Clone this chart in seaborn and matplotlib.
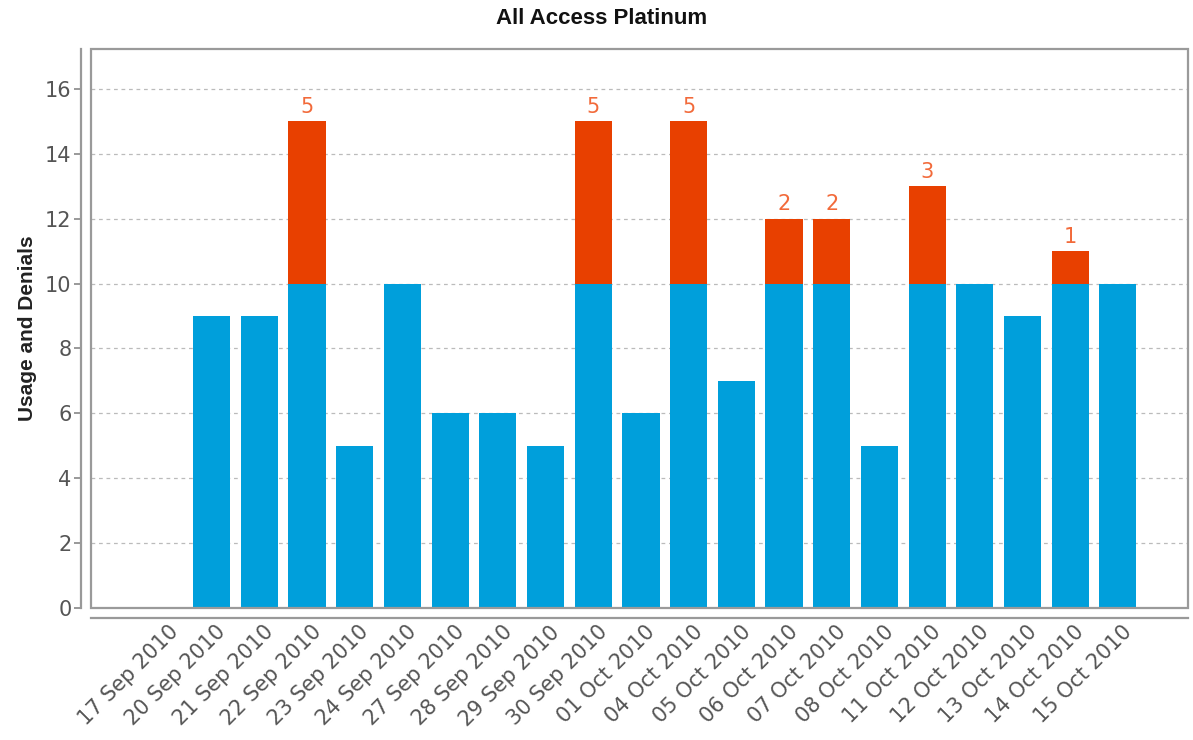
import matplotlib
matplotlib.use("Agg")
import matplotlib.pyplot as plt
from matplotlib.patches import Rectangle
from matplotlib.transforms import ScaledTranslation
import seaborn as sns
import pandas as pd

dates = ["17 Sep 2010", "20 Sep 2010", "21 Sep 2010", "22 Sep 2010", "23 Sep 2010",
         "24 Sep 2010", "27 Sep 2010", "28 Sep 2010", "29 Sep 2010", "30 Sep 2010",
         "01 Oct 2010", "04 Oct 2010", "05 Oct 2010", "06 Oct 2010", "07 Oct 2010",
         "08 Oct 2010", "11 Oct 2010", "12 Oct 2010", "13 Oct 2010", "14 Oct 2010",
         "15 Oct 2010"]
usage = [0, 9, 9, 10, 5, 10, 6, 6, 5, 10, 6, 10, 7, 10, 10, 5, 10, 10, 9, 10, 10]
denials = [0, 0, 0, 5, 0, 0, 0, 0, 0, 5, 0, 5, 0, 2, 2, 0, 3, 0, 0, 1, 0]
yticks = [0, 2, 4, 6, 8, 10, 12, 14, 16]

df = pd.DataFrame({"date": dates, "usage": usage, "denials": denials})
df["total"] = df["usage"] + df["denials"]

sns.set_theme(style="white")
plt.rcParams["font.family"] = ["DejaVu Sans"]

fig = plt.figure(figsize=(11.93, 7.40), dpi=100)
ax = fig.add_axes([0.0763, 0.1784, 0.9195, 0.7554])

BLUE = "#009FDB"
ORANGE = "#E84000"

# stacked bars: full total in orange, usage drawn over it in blue
sns.barplot(data=df, x="date", y="total", order=dates, color=ORANGE, width=0.78,
            saturation=1, errorbar=None, ax=ax, zorder=2, linewidth=0)
sns.barplot(data=df, x="date", y="usage", order=dates, color=BLUE, width=0.78,
            saturation=1, errorbar=None, ax=ax, zorder=3, linewidth=0)

# denial counts above the orange segments
labels = [str(d) if d > 0 else "" for d in denials]
ax.bar_label(ax.containers[0], labels=labels, padding=3, fontsize=15,
             color="#F26A3A")

ax.set_xlim(-1.53, 21.47)
ax.set_ylim(0, 17.23)
ax.set_yticks(yticks)
ax.set_yticklabels([str(t) for t in yticks])

ax.yaxis.grid(True, color="#BBBBBB", linestyle=(0, (3, 3)), linewidth=0.9, zorder=0)
ax.xaxis.grid(False)
ax.set_axisbelow(True)

for side in ("top", "right"):
    ax.spines[side].set_visible(False)
for side in ("left", "bottom"):
    ax.spines[side].set_position(("outward", 7))
    ax.spines[side].set_color("#999999")
    ax.spines[side].set_linewidth(1.6)

# plot-area frame
ax.add_patch(Rectangle((0, 0), 1, 1, transform=ax.transAxes, fill=False,
                       edgecolor="#9A9A9A", linewidth=1.6, clip_on=False, zorder=5))

ax.tick_params(axis="y", which="major", left=True, length=5, width=1.2,
               color="#888888", labelsize=15, labelcolor="#555555", pad=2)
ax.tick_params(axis="x", which="major", bottom=False, length=0,
               labelsize=15, labelcolor="#555555", pad=3)
shift = ScaledTranslation(4 / 100, 0, fig.dpi_scale_trans)
for lbl in ax.get_xticklabels():
    lbl.set_rotation(45)
    lbl.set_ha("right")
    lbl.set_va("top")
    lbl.set_rotation_mode("anchor")
    lbl.set_transform(lbl.get_transform() + shift)

ax.set_xlabel("")
ax.set_ylabel("Usage and Denials", fontsize=15, fontweight="bold",
              family=["Liberation Sans", "DejaVu Sans"], color="#222222", labelpad=6)
fig.suptitle("All Access Platinum", x=0.504, y=0.975, va="center", fontsize=16,
             fontweight="bold", family=["Liberation Sans", "DejaVu Sans"],
             color="#111111")

fig.savefig("out.png", dpi=100)
